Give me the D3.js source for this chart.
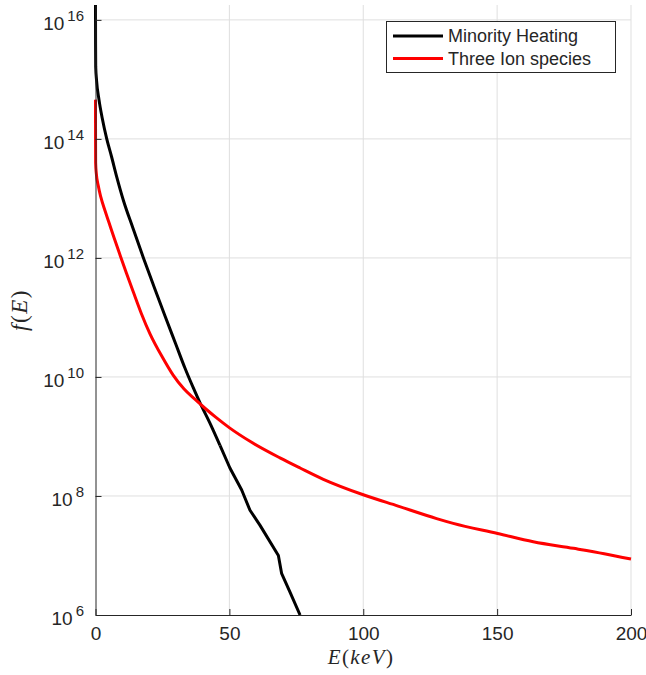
<!DOCTYPE html>
<html>
<head>
<meta charset="utf-8">
<script src="https://cdn.jsdelivr.net/npm/d3@7/dist/d3.min.js"></script>
<style>
  html, body { margin: 0; padding: 0; background: #fff; }
  svg { display: block; }
  text { font-family: "Liberation Sans", Arial, Helvetica, sans-serif; fill: #262626; }
</style>
</head>
<body>
<svg id="chart" width="646" height="675"></svg>
<script>
// ---- data (E in keV, log10 f(E)) ----
const seriesNames = ["Minority Heating", "Three Ion species"];
const seriesColors = ["#000000", "#ff0000"];

const minorityE = [0, 0.03, 0.08, 0.4, 1.3, 2.5, 4.2, 6, 8, 10.4, 14, 17.9, 22, 26, 30, 33.4, 36.5, 39, 43, 46.5, 50.2, 54.6, 57.7, 61.4, 68.3, 69.5, 72.6, 76.4];
const minorityLogF = [16.25, 15.6, 15.21, 14.98, 14.66, 14.35, 14.0, 13.7, 13.35, 12.97, 12.5, 12.0, 11.5, 11.02, 10.55, 10.15, 9.82, 9.57, 9.2, 8.85, 8.47, 8.10, 7.76, 7.51, 7.0, 6.70, 6.39, 6.0];

const threeIonE = [0, 0.02, 0.05, 0.3, 1, 2, 3.5, 5, 7, 9.15, 11.5, 14.1, 17, 20.4, 25, 29, 33, 37, 41, 45, 50.2, 58, 68.9, 76.4, 85.1, 100, 113, 127.4, 133.6, 150.2, 163.5, 178.5, 190, 200];
const threeIonLogF = [14.66, 14.0, 13.6, 13.42, 13.22, 13.02, 12.8, 12.6, 12.33, 12.05, 11.75, 11.43, 11.08, 10.72, 10.33, 10.03, 9.80, 9.63, 9.47, 9.32, 9.14, 8.91, 8.64, 8.47, 8.28, 8.02, 7.83, 7.62, 7.54, 7.37, 7.23, 7.12, 7.03, 6.94];

const xTicks = [0, 50, 100, 150, 200];
const yTickExponents = [6, 8, 10, 12, 14, 16];

// ---- layout ----
const svg = d3.select("#chart");
const L = 95.5, R = 631, T = 5, B = 615;

const x = d3.scaleLinear().domain([0, 200]).range([L, R]);
const y = d3.scaleLog().domain([1e6, Math.pow(10, 16.25)]).range([B, T]);

const gridColor = "#dfdfdf";
const axisColor = "#262626";

// grid
svg.append("g").selectAll("line").data(xTicks.filter(d => d > 0)).join("line")
  .attr("x1", d => x(d)).attr("x2", d => x(d)).attr("y1", T).attr("y2", B)
  .attr("stroke", gridColor).attr("stroke-width", 1);
svg.append("g").selectAll("line").data(yTickExponents.filter(d => d > 6)).join("line")
  .attr("x1", L).attr("x2", R).attr("y1", d => y(Math.pow(10, d))).attr("y2", d => y(Math.pow(10, d)))
  .attr("stroke", gridColor).attr("stroke-width", 1);

// lines
svg.append("defs").append("clipPath").attr("id", "clip")
  .append("rect").attr("x", L - 2).attr("y", T).attr("width", R - L + 4).attr("height", B - T);

const smooth = d3.line().curve(d3.curveMonotoneX)
  .x(d => x(d[0])).y(d => y(Math.pow(10, d[1])));
const straight = d3.line().curve(d3.curveLinear)
  .x(d => x(d[0])).y(d => y(Math.pow(10, d[1])));
const seriesData = [
  d3.zip(minorityE, minorityLogF),
  d3.zip(threeIonE, threeIonLogF)
];
const gLines = svg.append("g").attr("clip-path", "url(#clip)");
// Minority heating: smooth upper part, piecewise-linear tail (as in the original)
const bk = seriesData[0];
const split = bk.findIndex(d => d[0] >= 46.5);
gLines.append("path").datum(bk.slice(0, split + 1)).attr("d", smooth)
  .attr("fill", "none").attr("stroke", seriesColors[0]).attr("stroke-width", 3).attr("stroke-linejoin", "round");
gLines.append("path").datum(bk.slice(split)).attr("d", straight)
  .attr("fill", "none").attr("stroke", seriesColors[0]).attr("stroke-width", 3).attr("stroke-linejoin", "round");
gLines.append("path").datum(seriesData[1]).attr("d", smooth)
  .attr("fill", "none").attr("stroke", seriesColors[1]).attr("stroke-width", 3).attr("stroke-linejoin", "round");

// axes
const xAxis = d3.axisBottom(x).tickValues(xTicks).tickSize(-6).tickSizeOuter(0).tickFormat(d3.format("d"));
const gx = svg.append("g").attr("transform", `translate(0,${B})`).call(xAxis);
gx.select(".domain").attr("stroke", axisColor);
gx.selectAll(".tick line").attr("stroke", axisColor);
gx.selectAll(".tick text").attr("font-size", 19).attr("fill", axisColor)
  .style("font-family", '"Liberation Sans", Arial, sans-serif').attr("dy", null).attr("y", 25);

const yAxis = d3.axisLeft(y).tickValues(yTickExponents.map(e => Math.pow(10, e))).tickSize(-6).tickSizeOuter(0).tickFormat("");
const gy = svg.append("g").attr("transform", `translate(${L},0)`).call(yAxis);
gy.select(".domain").attr("stroke", axisColor);
gy.selectAll(".tick line").attr("stroke", axisColor);

// y tick labels "10^n"
yTickExponents.forEach(e => {
  const yy = y(Math.pow(10, e));
  const t = svg.append("text").attr("x", 84).attr("y", yy + 10).attr("text-anchor", "end")
    .attr("font-size", 19);
  t.append("tspan").text("10");
  t.append("tspan").attr("dx", 3).attr("dy", -9).attr("font-size", 15).text(String(e));
});

// axis labels
const serif = '"Liberation Serif", "DejaVu Serif", serif';
const xl = svg.append("text").attr("x", 361).attr("y", 664).attr("text-anchor", "middle")
  .attr("font-size", 21).attr("letter-spacing", 1.4).style("font-family", serif);
xl.append("tspan").attr("font-style", "italic").text("E");
xl.append("tspan").text("(");
xl.append("tspan").attr("font-style", "italic").text("keV");
xl.append("tspan").text(")");

const yl = svg.append("text").attr("transform", `translate(27,${(T + B) / 2}) rotate(-90)`)
  .attr("text-anchor", "middle").attr("font-size", 23).attr("letter-spacing", 1.5).style("font-family", serif);
yl.append("tspan").attr("font-style", "italic").text("f");
yl.append("tspan").text("(");
yl.append("tspan").attr("font-style", "italic").text("E");
yl.append("tspan").text(")");

// legend
const lg = svg.append("g");
lg.append("rect").attr("x", 386.5).attr("y", 21.5).attr("width", 229).attr("height", 51)
  .attr("fill", "#fff").attr("stroke", axisColor).attr("stroke-width", 1);
seriesNames.forEach((name, i) => {
  const yy = 36 + i * 22.6;
  lg.append("line").attr("x1", 393).attr("x2", 443).attr("y1", yy).attr("y2", yy)
    .attr("stroke", seriesColors[i]).attr("stroke-width", 3);
  lg.append("text").attr("x", 448).attr("y", yy + 6.3).attr("font-size", 18).attr("fill", "#000").text(name);
});
</script>
</body>
</html>
